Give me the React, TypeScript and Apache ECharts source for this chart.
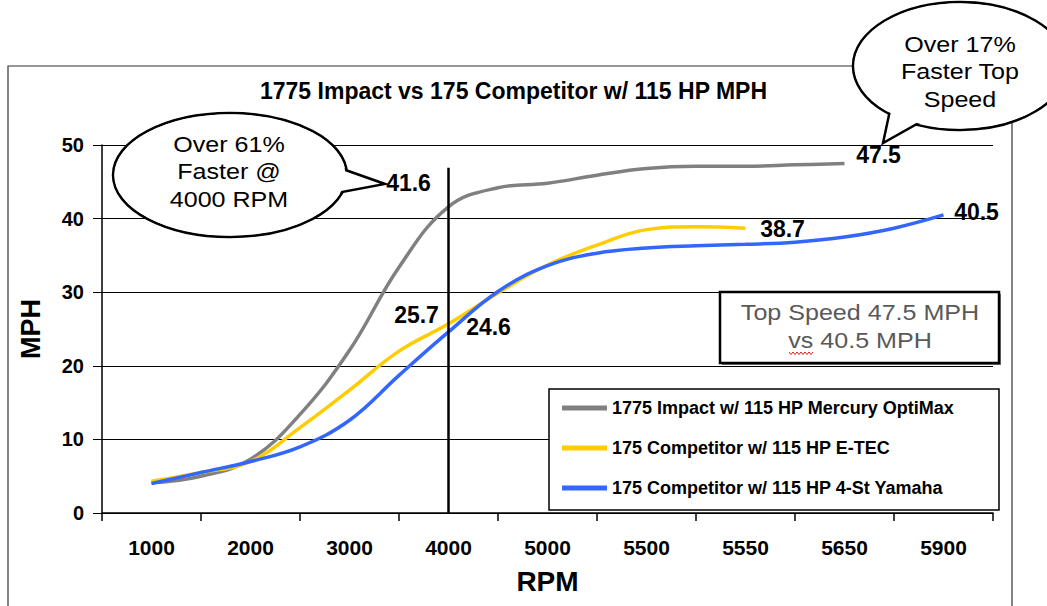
import React, { useEffect, useRef } from "react";
import * as echarts from "echarts";

// ---- data ----
const TITLE = "1775 Impact vs 175 Competitor w/ 115 HP MPH";
const rpmLabels = ["1000", "2000", "3000", "4000", "5000", "5500", "5550", "5650", "5900"];
// half-step slots: odd slots carry the labelled RPM points, even slots are readings between them
const slots: string[] = [];
for (let i = 0; i <= rpmLabels.length * 2; i++) {
  slots.push(i % 2 === 1 ? rpmLabels[(i - 1) / 2] : "mid" + i);
}
const seriesNames = [
  "1775 Impact w/ 115 HP Mercury OptiMax",
  "175 Competitor w/ 115 HP E-TEC",
  "175 Competitor w/ 115 HP 4-St Yamaha",
];
const impactMph = [null, 4.1, 5.0, 7.3, 13.4, 22.1, 33.4, 41.6, 44.2, 44.8, 45.9, 46.8, 47.1, 47.1, 47.3, 47.5, null, null, null];
const etecMph = [null, 4.3, 5.5, 7.0, 11.6, 16.7, 22.0, 25.7, 29.9, 33.7, 36.4, 38.5, 38.9, 38.7, null, null, null, null, null];
const yamahaMph = [null, 4.0, 5.5, 7.0, 9.0, 12.6, 18.7, 24.6, 30.1, 33.6, 35.3, 36.0, 36.3, 36.5, 36.8, 37.5, 38.7, 40.5, null];
const colors = ["#808080", "#FFCC00", "#3366FF"];
const markSlot = 7; // 4000 RPM

const FONT = "Liberation Sans, Arial, sans-serif";

export default function App() {
  const ref = useRef<HTMLDivElement>(null);
  useEffect(() => {
    document.body.style.margin = "0";
    if (!ref.current) return;
    const chart = echarts.init(ref.current, null, { renderer: "svg" });

    const labelStyle = { show: true, position: "inside", fontSize: 23, fontWeight: "bold", color: "#000", fontFamily: FONT, formatter: "{c}" };
    const mp = (data: any[]) => ({ symbol: "circle", symbolSize: 0, silent: true, label: labelStyle, data });

    const squiggle: number[][] = [];
    for (let k = 0; k <= 12; k++) squiggle.push([789 + k * 2, k % 2 === 0 ? 352 : 354.5]);

    const bubble = (cx: number, cy: number, rx: number, ry: number, tail: number[][]) => [
      { type: "ellipse", z: 10, shape: { cx, cy, rx, ry }, style: { fill: "#fff", stroke: "#000", lineWidth: 2.5 } },
      { type: "polygon", z: 11, shape: { points: tail }, style: { fill: "#fff", stroke: "#000", lineWidth: 2.5 } },
      { type: "ellipse", z: 12, shape: { cx, cy, rx: rx - 1.6, ry: ry - 1.6 }, style: { fill: "#fff", stroke: null } },
    ];
    const gtext = (x: number, y: number, text: string, fontSize: number, fill: string, scaleX: number, lineHeight?: number) => ({
      type: "text", z: 13, x, y, scaleX,
      style: { text, x: 0, y: 0, align: "center", verticalAlign: "middle", fontSize, fontFamily: FONT, fill, lineHeight },
    });

    const lineSeries = (name: string, data: any[], color: string, extra: any) => ({
      name, type: "line", data, smooth: 0.4, symbol: "none", color,
      lineStyle: { color, width: 3.5 }, ...extra,
    });

    const option: any = {
      animation: false,
      textStyle: { fontFamily: FONT },
      title: {
        text: TITLE, left: 255, top: 74,
        textStyle: { fontSize: 23, fontWeight: "bold", color: "#000", fontFamily: FONT },
      },
      grid: { left: 102, right: 54, top: 145, bottom: 93 },
      xAxis: {
        type: "category", data: slots, boundaryGap: false,
        axisLine: { lineStyle: { color: "#000", width: 1.5 } },
        axisTick: { interval: (i: number) => i % 2 === 0, length: 8, lineStyle: { color: "#000", width: 1.5 } },
        axisLabel: { interval: (i: number) => i % 2 === 1, margin: 24, fontSize: 21, fontWeight: "bold", color: "#000", fontFamily: FONT },
        splitLine: { show: false },
        name: "RPM", nameLocation: "middle", nameGap: 54,
        nameTextStyle: { fontSize: 28, fontWeight: "bold", color: "#000", fontFamily: FONT },
      },
      yAxis: {
        type: "value", min: 0, max: 50, interval: 10,
        axisLine: { show: true, lineStyle: { color: "#000", width: 1.5 } },
        axisTick: { show: true, length: 9, lineStyle: { color: "#000", width: 1 } },
        axisLabel: { margin: 18, fontSize: 20, fontWeight: "bold", color: "#000", fontFamily: FONT },
        splitLine: { show: true, lineStyle: { color: "#000", width: 1 } },
        name: "MPH", nameLocation: "middle", nameRotate: 90, nameGap: 58,
        nameTextStyle: { fontSize: 27, fontWeight: "bold", color: "#000", fontFamily: FONT },
      },
      legend: {
        orient: "vertical", left: 562, top: 399, padding: 0,
        icon: "rect", itemWidth: 45, itemHeight: 5, itemGap: 22,
        data: seriesNames,
        textStyle: { fontSize: 18, fontWeight: "bold", color: "#000", fontFamily: FONT },
        z: 20,
      },
      series: [
        lineSeries(seriesNames[0], impactMph, colors[0], {
          markLine: {
            silent: true, symbol: "none", label: { show: false },
            lineStyle: { color: "#000", width: 2.5, type: "solid" },
            data: [[{ coord: [markSlot, 0] }, { coord: [markSlot, 46.9] }]],
          },
          markPoint: mp([
            { coord: [markSlot, impactMph[markSlot]], value: impactMph[markSlot], label: { offset: [-40, -24] } },
            { coord: [15, impactMph[15]], value: impactMph[15], label: { offset: [34, -8] } },
          ]),
        }),
        lineSeries(seriesNames[1], etecMph, colors[1], {
          markPoint: mp([
            { coord: [markSlot, etecMph[markSlot]], value: etecMph[markSlot], label: { offset: [-32, -9] } },
            { coord: [13, etecMph[13]], value: etecMph[13], label: { offset: [37, 1] } },
          ]),
        }),
        lineSeries(seriesNames[2], yamahaMph, colors[2], {
          markPoint: mp([
            { coord: [markSlot, yamahaMph[markSlot]], value: yamahaMph[markSlot], label: { offset: [40, -5] } },
            { coord: [17, yamahaMph[17]], value: yamahaMph[17], label: { offset: [33, -3] } },
          ]),
        }),
      ],
      graphic: [
        { type: "rect", z: -1, silent: true, shape: { x: 8, y: 66, width: 1004, height: 560 }, style: { fill: "none", stroke: "#333", lineWidth: 1.2 } },
        // legend box
        { type: "rect", z: 5, silent: true, shape: { x: 549, y: 389, width: 450, height: 121 }, style: { fill: "#fff", stroke: "#000", lineWidth: 1.5 } },
        // text box
        { type: "rect", z: 5, silent: true, shape: { x: 722, y: 294, width: 279, height: 71 }, style: { fill: "#777", stroke: null } },
        { type: "rect", z: 6, silent: true, shape: { x: 720, y: 292, width: 279, height: 71 }, style: { fill: "#fff", stroke: "#000", lineWidth: 2.5 } },
        gtext(860, 327, "Top Speed 47.5 MPH\nvs 40.5 MPH", 22, "#595959", 1.14, 28),
        { type: "polyline", z: 14, silent: true, shape: { points: squiggle }, style: { stroke: "#e00000", lineWidth: 0.9, fill: null } },
        // callouts
        ...bubble(230, 175, 117, 62, [[320, 161], [385, 184], [313, 197.5]]),
        gtext(229, 172, "Over 61%\nFaster @\n4000 RPM", 22, "#000", 1.14, 27.5),
        ...bubble(960, 66, 107, 64, [[892, 101], [883, 143], [931, 116]]),
        gtext(960, 72, "Over 17%\nFaster Top\nSpeed", 22, "#000", 1.14, 27.5),
      ],
    };
    chart.setOption(option);
    return () => chart.dispose();
  }, []);
  return <div ref={ref} style={{ width: 1047, height: 606 }} />;
}
